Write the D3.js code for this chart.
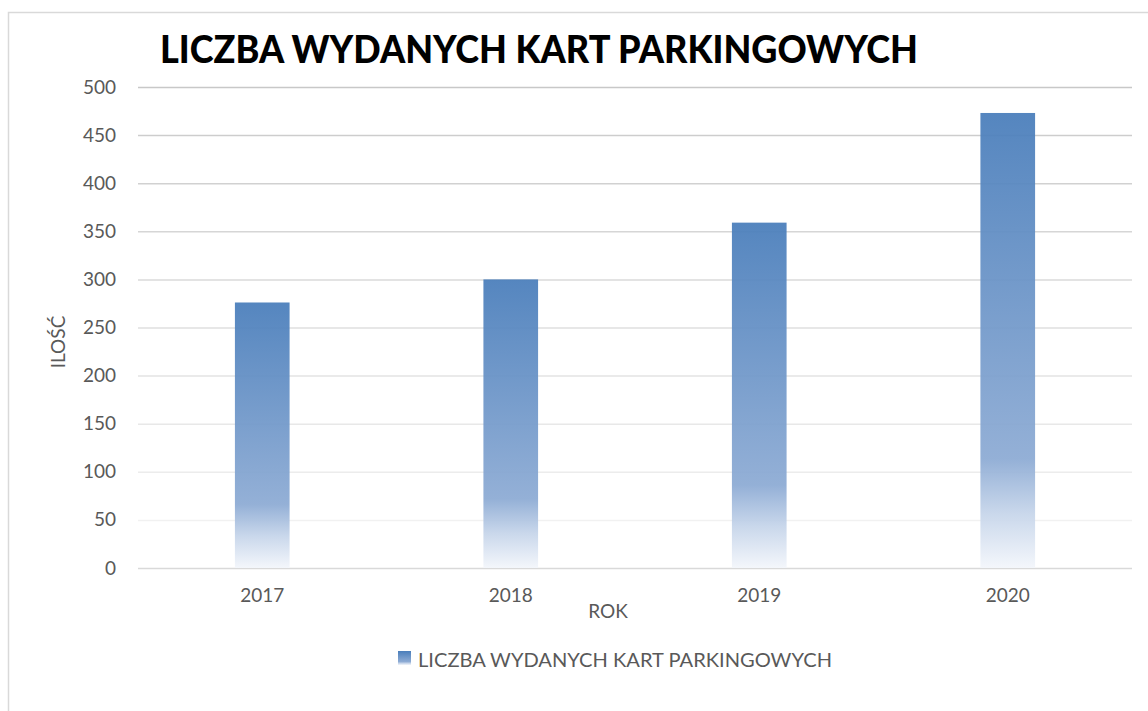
<!DOCTYPE html>
<html>
<head>
<meta charset="utf-8">
<script src="https://cdn.jsdelivr.net/npm/d3@7"></script>
<style>
  body { margin: 0; background: #fff; }
  text { font-family: Lato, "Open Sans", sans-serif; }
</style>
</head>
<body>
<div id="chart"></div>
<script>
// chart values
var years = ["2017", "2018", "2019", "2020"];
var cards = [276, 300, 359, 473];
var yTicks = [0, 50, 100, 150, 200, 250, 300, 350, 400, 450, 500];
var chartTitle = "LICZBA WYDANYCH KART PARKINGOWYCH";
var seriesName = "LICZBA WYDANYCH KART PARKINGOWYCH";

var w = 1148, h = 711;

// plot area (note: "top" is taken by window.top, so use plot_* names)
var plot_left = 138, plot_right = 1132, plot_top = 87, plot_bottom = 568;

var svg = d3.select("#chart").append("svg")
    .attr("width", w).attr("height", h);

// gradient used for bars - dark at top, fading out to white near the bottom
var defs = svg.append("defs");
var grad = defs.append("linearGradient")
    .attr("id", "barGrad")
    .attr("x1", 0).attr("y1", 0).attr("x2", 0).attr("y2", 1);
grad.append("stop").attr("offset", "0").attr("stop-color", "#4a7ebb");
grad.append("stop").attr("offset", "0.76").attr("stop-color", "#8dabd4");
grad.append("stop").attr("offset", "0.88").attr("stop-color", "#c6d5ea");
grad.append("stop").attr("offset", "1").attr("stop-color", "#f3f6fb");

// outer frame of the chart
svg.append("rect")
    .attr("x", 8.5).attr("y", 12.5).attr("width", 1160).attr("height", 720)
    .style("fill", "none").style("stroke", "#d9d9d9").style("stroke-width", 1.5);

var x = d3.scaleBand().domain(years).range([plot_left, plot_right]).paddingInner(0.78).paddingOuter(0.39);
var y = d3.scaleLinear().domain([0, 500]).range([plot_bottom, plot_top]);

// gridlines get lighter towards the bottom (0 line is a bit darker again)
var gridColor = d3.scaleLinear().domain([50, 500]).range(["#f1f1f1", "#c8c8c8"]);

svg.append("g").selectAll("line")
    .data(yTicks).enter().append("line")
    .attr("x1", plot_left).attr("x2", plot_right)
    .attr("y1", function(d){ return y(d) + 0.5; })
    .attr("y2", function(d){ return y(d) + 0.5; })
    .style("stroke", function(d){ return d == 0 ? "#d9d9d9" : gridColor(d); })
    .style("stroke-width", 1.5);

// bars
svg.append("g").selectAll("rect")
    .data(cards).enter().append("rect")
    .attr("x", function(d, i){ return x(years[i]); })
    .attr("y", function(d){ return y(d); })
    .attr("width", x.bandwidth())
    .attr("height", function(d){ return plot_bottom - y(d); })
    .style("fill", "url(#barGrad)")
    .style("opacity", 0.94);

// y axis labels
var yAxis = svg.append("g")
    .attr("transform", "translate(" + 116 + ",0)")
    .call(d3.axisLeft(y).tickValues(yTicks).tickSize(0).tickPadding(0));
yAxis.select(".domain").remove();
yAxis.selectAll("text")
    .attr("font-size", 19).attr("fill", "#595959")
    .style("font-family", "Lato, 'Open Sans', sans-serif");

// x axis labels
var xAxis = svg.append("g")
    .attr("transform", "translate(0," + 588 + ")")
    .call(d3.axisBottom(x).tickSize(0).tickPadding(0));
xAxis.select(".domain").remove();
xAxis.selectAll("text")
    .attr("font-size", 19).attr("fill", "#595959")
    .style("font-family", "Lato, 'Open Sans', sans-serif");

// axis titles
svg.append("text")
    .attr("x", 608).attr("y", 618)
    .attr("text-anchor", "middle")
    .attr("font-size", 19).attr("fill", "#595959")
    .text("ROK");

svg.append("text")
    .attr("transform", "translate(65,342) rotate(-90)")
    .attr("text-anchor", "middle")
    .attr("font-size", 19).attr("fill", "#595959")
    .text("ILOŚĆ");

// title
svg.append("text")
    .attr("x", 160).attr("y", 63)
    .attr("font-size", 38).attr("font-weight", "900").attr("fill", "#000")
    .attr("textLength", 758).attr("lengthAdjust", "spacingAndGlyphs")
    .text(chartTitle);

// legend
svg.append("rect")
    .attr("x", 398).attr("y", 651).attr("width", 13).attr("height", 14)
    .style("fill", "url(#barGrad)");
svg.append("text")
    .attr("x", 418).attr("y", 667)
    .attr("font-size", 19).attr("fill", "#595959")
    .attr("textLength", 414).attr("lengthAdjust", "spacingAndGlyphs")
    .text(seriesName);
</script>
</body>
</html>
